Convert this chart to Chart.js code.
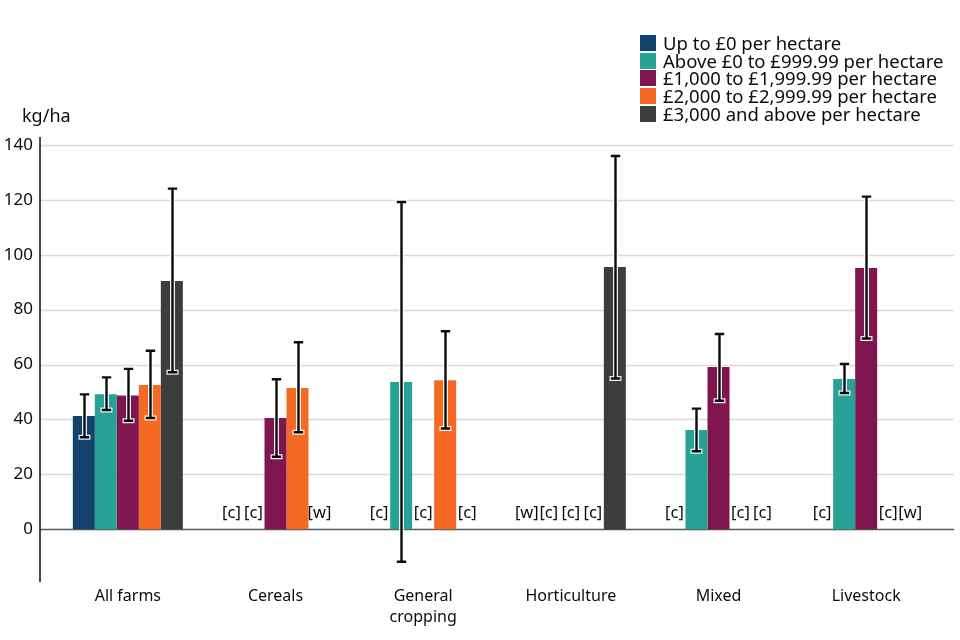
<!DOCTYPE html>
<html>
<head>
<meta charset="utf-8">
<script src="https://cdn.jsdelivr.net/npm/chart.js@4"></script>
<style>
  body { margin: 0; background: #fff; font-family: "Noto Sans", sans-serif; color: #0b0c0c; }
  #wrap { position: relative; width: 960px; height: 640px; }
  #unit { position: absolute; left: 22px; top: 103px; font-size: 18px; }
  #legend { position: absolute; left: 640px; top: 34px; font-size: 18.5px; line-height: 17.7px; }
  #legend div { display: flex; align-items: center; white-space: nowrap; height: 17.7px; }
  #legend span.sw { display: inline-block; width: 16px; height: 16px; margin-right: 7px; flex: none; }
</style>
</head>
<body>
<div id="wrap">
  <canvas id="chart" width="960" height="640"></canvas>
  <div id="unit">kg/ha</div>
  <div id="legend"></div>
</div>
<script>
(function () {
  "use strict";

  var categories = ["All farms", "Cereals", ["General", "cropping"], "Horticulture", "Mixed", "Livestock"];
  var seriesNames = [
    "Up to £0 per hectare",
    "Above £0 to £999.99 per hectare",
    "£1,000 to £1,999.99 per hectare",
    "£2,000 to £2,999.99 per hectare",
    "£3,000 and above per hectare",
  ];
  var seriesColors = ["#12436D", "#28A197", "#801650", "#F46A25", "#3D3D3D"];
  var yTicks = [0, 20, 40, 60, 80, 100, 120, 140];

  // values, 95% interval bounds, and suppression flags ([c] confidential, [w] too few)
  var upToZero      = [41.2, null, null, null, null, null];
  var upToZeroLow   = [33.5, null, null, null, null, null];
  var upToZeroHigh  = [49.1, null, null, null, null, null];
  var upToZeroFlags = [null, "[c]", "[c]", "[w]", "[c]", "[c]"];

  var under1k      = [49.2, null, 53.6, null, 36.1, 54.7];
  var under1kLow   = [43.4, null, -11.9, null, 28.4, 49.6];
  var under1kHigh  = [55.3, null, 119.2, null, 43.9, 60.2];
  var under1kFlags = [null, "[c]", null, "[c]", null, null];

  var under2k      = [48.7, 40.5, null, null, 59.1, 95.2];
  var under2kLow   = [39.5, 26.4, null, null, 46.8, 69.5];
  var under2kHigh  = [58.4, 54.6, null, null, 71.1, 121.2];
  var under2kFlags = [null, null, "[c]", "[c]", null, null];

  var under3k      = [52.5, 51.4, 54.3, null, null, null];
  var under3kLow   = [40.5, 35.3, 36.7, null, null, null];
  var under3kHigh  = [65.0, 68.1, 72.1, null, null, null];
  var under3kFlags = [null, null, null, "[c]", "[c]", "[c]"];

  var over3k      = [90.4, null, null, 95.5, null, null];
  var over3kLow   = [57.2, null, null, 54.9, null, null];
  var over3kHigh  = [124.1, null, null, 136.0, null, null];
  var over3kFlags = [null, "[w]", "[c]", null, "[c]", "[w]"];

  var values = [upToZero, under1k, under2k, under3k, over3k];
  var lows = [upToZeroLow, under1kLow, under2kLow, under3kLow, over3kLow];
  var highs = [upToZeroHigh, under1kHigh, under2kHigh, under3kHigh, over3kHigh];
  var flags = [upToZeroFlags, under1kFlags, under2kFlags, under3kFlags, over3kFlags];

  var FONT = "'Noto Sans', sans-serif";
  var AXIS_INSET = 14; // axis line and gridlines reach past the category band

  var legend = document.getElementById("legend");
  seriesNames.forEach(function (name, i) {
    var row = document.createElement("div");
    row.innerHTML = '<span class="sw" style="background:' + seriesColors[i] + '"></span>' + name;
    legend.appendChild(row);
  });

  var gridPlugin = {
    id: "extendedGrid",
    beforeDatasetsDraw: function (chart) {
      var ctx = chart.ctx, area = chart.chartArea, y = chart.scales.y;
      ctx.save();
      yTicks.forEach(function (t) {
        var py = Math.round(y.getPixelForValue(t)) + 0.5;
        ctx.strokeStyle = t === 0 ? "#505a5f" : "#d9d9d9";
        ctx.lineWidth = 1.5;
        ctx.beginPath();
        ctx.moveTo(area.left - AXIS_INSET, py);
        ctx.lineTo(area.right + AXIS_INSET, py);
        ctx.stroke();
      });
      ctx.strokeStyle = "#0b0c0c";
      ctx.lineWidth = 1.5;
      ctx.beginPath();
      ctx.moveTo(area.left - AXIS_INSET, y.getPixelForValue(140) - 8);
      ctx.lineTo(area.left - AXIS_INSET, area.bottom - 2);
      ctx.stroke();
      ctx.restore();
    },
  };

  function barX(chart, di, i) {
    var el = chart.getDatasetMeta(di).data[i];
    if (el && isFinite(el.x)) return el.x;
    var x = chart.scales.x;
    var band = (x.getPixelForValue(1) - x.getPixelForValue(0)) * 0.745;
    return x.getPixelForValue(i) + (di - 2) * band / 5;
  }

  var overlayPlugin = {
    id: "errorBarsAndFlags",
    afterDatasetsDraw: function (chart) {
      var ctx = chart.ctx, y = chart.scales.y;
      ctx.save();
      values.forEach(function (series, di) {
        series.forEach(function (v, i) {
          if (v === null || lows[di][i] === null) return;
          var x = Math.round(barX(chart, di, i)) + 0.5;
          var top = y.getPixelForValue(highs[di][i]);
          var bot = y.getPixelForValue(lows[di][i]);
          ctx.lineCap = "square";
          [["rgba(255,255,255,0.9)", 5], ["#0b0c0c", 2.4]].forEach(function (pass) {
            ctx.strokeStyle = pass[0];
            ctx.lineWidth = pass[1];
            ctx.beginPath();
            ctx.moveTo(x, top); ctx.lineTo(x, bot);
            ctx.moveTo(x - 3.5, top); ctx.lineTo(x + 3.5, top);
            ctx.moveTo(x - 3.5, bot); ctx.lineTo(x + 3.5, bot);
            ctx.stroke();
          });
        });
      });
      ctx.font = "16.5px " + FONT;
      ctx.fillStyle = "#0b0c0c";
      ctx.textAlign = "center";
      ctx.textBaseline = "middle";
      var labelY = y.getPixelForValue(0) - 16;
      flags.forEach(function (series, di) {
        series.forEach(function (f, i) {
          if (!f) return;
          ctx.fillText(f, barX(chart, di, i), labelY);
        });
      });
      ctx.restore();
    },
  };

  new Chart(document.getElementById("chart"), {
    type: "bar",
    data: {
      labels: categories,
      datasets: values.map(function (series, i) {
        return {
          label: seriesNames[i],
          data: series,
          backgroundColor: seriesColors[i],
          borderWidth: 0,
          categoryPercentage: 0.745,
          barPercentage: 1,
        };
      }),
    },
    options: {
      responsive: false,
      animation: false,
      devicePixelRatio: 1,
      layout: { padding: { top: 145, right: 20, left: 0, bottom: 0 } },
      plugins: { legend: { display: false }, tooltip: { enabled: false } },
      scales: {
        x: {
          grid: { display: false, drawTicks: false, tickLength: 0 },
          border: { display: false },
          ticks: {
            color: "#0b0c0c",
            font: { family: FONT, size: 16, lineHeight: 1.3 },
            padding: 2,
            maxRotation: 0,
            autoSkip: false,
          },
          afterFit: function (scale) { scale.height = 56; },
        },
        y: {
          min: -20,
          max: 140,
          grid: { display: false, drawTicks: false, tickLength: 0 },
          border: { display: false },
          ticks: {
            stepSize: 20,
            color: "#0b0c0c",
            padding: 21,
            font: { family: FONT, size: 17 },
            callback: function (v) { return v < 0 ? "" : v; },
          },
          afterFit: function (scale) { scale.width = 54; },
        },
      },
    },
    plugins: [gridPlugin, overlayPlugin],
  });
})();
</script>
</body>
</html>
